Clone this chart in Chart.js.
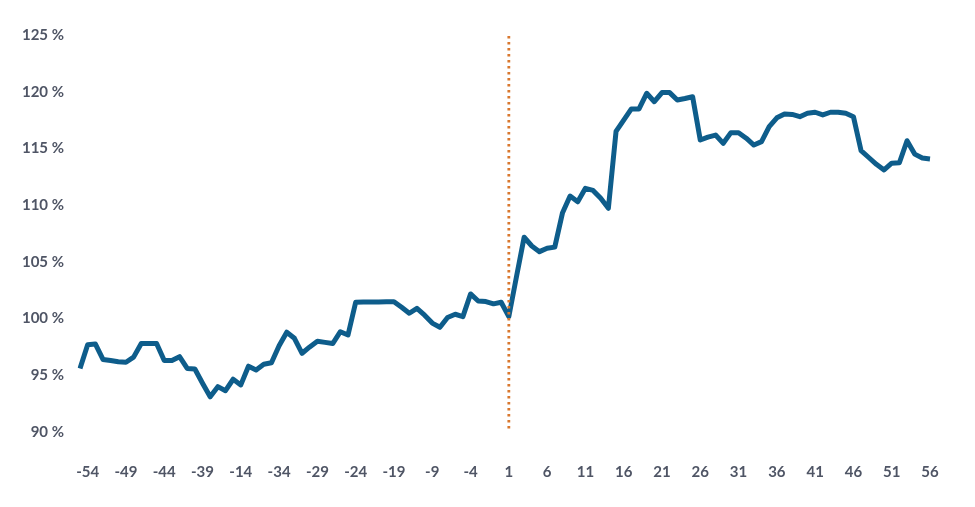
<!DOCTYPE html>
<html>
<head>
<meta charset="utf-8">
<script src="https://cdn.jsdelivr.net/npm/chart.js@4/dist/chart.umd.min.js"></script>
<style>
  html, body { margin: 0; padding: 0; background: #ffffff; }
  #wrap { width: 975px; height: 507px; }
</style>
</head>
<body>
<div id="wrap"><canvas id="c" width="975" height="507"></canvas></div>
<script>
// Category labels (days relative to event) as they appear on the axis
const dayLabels = [
  -55,
  -54, -53, -52, -51, -50, -49, -48, -47, -46, -45, -44, -43, -42, -41, -40,
  -39, -38, -37, -36, -35,
  -14, -13, -12, -11, -10,
  -34, -33, -32, -31, -30, -29, -28, -27, -26, -25, -24, -23, -22, -21, -20, -19, -18, -17, -16, -15,
  -9, -8, -7, -6, -5, -4, -3, -2, -1, 0,
  1, 2, 3, 4, 5, 6, 7, 8, 9, 10, 11, 12, 13, 14, 15, 16, 17, 18, 19, 20,
  21, 22, 23, 24, 25, 26, 27, 28, 29, 30, 31, 32, 33, 34, 35, 36, 37, 38, 39, 40,
  41, 42, 43, 44, 45, 46, 47, 48, 49, 50, 51, 52, 53, 54, 55, 56
];

// Relative value (%)
const relValues = [
  95.6, 97.7, 97.76, 96.4, 96.3, 96.2, 96.15, 96.6, 97.8, 97.8,
  97.8, 96.3, 96.3, 96.64, 95.6, 95.55, 94.3, 93.1, 94.0, 93.64,
  94.65, 94.15, 95.8, 95.47, 95.97, 96.1, 97.6, 98.8, 98.26, 96.94,
  97.5, 98.0, 97.9, 97.8, 98.84, 98.55, 101.44, 101.45, 101.46, 101.47,
  101.48, 101.49, 101.0, 100.47, 100.9, 100.3, 99.6, 99.23, 100.1, 100.38,
  100.17, 102.17, 101.55, 101.5, 101.3, 101.44, 100.17, 103.7, 107.17, 106.4,
  105.9, 106.2, 106.3, 109.3, 110.8, 110.3, 111.48, 111.3, 110.6, 109.72,
  116.5, 117.5, 118.48, 118.48, 119.86, 119.12, 119.92, 119.92, 119.27, 119.4,
  119.56, 115.74, 116.0, 116.18, 115.45, 116.39, 116.39, 115.9, 115.3, 115.6,
  116.92, 117.7, 118.04, 118.0, 117.8, 118.1, 118.19, 117.95, 118.19, 118.19,
  118.1, 117.8, 114.8, 114.2, 113.6, 113.1, 113.7, 113.74, 115.68, 114.5,
  114.15, 114.07
];

// Y axis range / ticks
const yMin = 90;
const yMax = 125;
const yStep = 5;

// Event marker: category with label 1
const eventLabel = 1;

const TEXT_COLOR = '#4f5565';
const FONT = { family: 'Lato', weight: 'bold', size: 15 };

const eventLinePlugin = {
  id: 'eventLine',
  afterDatasetsDraw(chart) {
    const xs = chart.scales.x, ys = chart.scales.y;
    const idx = dayLabels.indexOf(eventLabel);
    const x = xs.getPixelForValue(idx);
    const ctx = chart.ctx;
    ctx.save();
    ctx.strokeStyle = '#d9782f';
    ctx.lineWidth = 2.8;
    ctx.setLineDash([2.6, 3.4]);
    ctx.beginPath();
    ctx.moveTo(x, ys.getPixelForValue(yMax) + 1);
    ctx.lineTo(x, ys.getPixelForValue(yMin) - 2);
    ctx.stroke();
    ctx.restore();
  }
};

new Chart(document.getElementById('c'), {
  type: 'line',
  data: {
    labels: dayLabels.map(String),
    datasets: [{
      data: relValues,
      borderColor: '#0e5d8b',
      borderWidth: 5,
      pointRadius: 0,
      tension: 0,
      fill: false,
      borderJoinStyle: 'round',
      borderCapStyle: 'butt'
    }]
  },
  options: {
    responsive: false,
    animation: false,
    devicePixelRatio: 1,
    layout: { padding: { top: 35, right: 45, left: 0, bottom: 0 } },
    plugins: { legend: { display: false }, tooltip: { enabled: false } },
    scales: {
      x: {
        type: 'category',
        offset: false,
        grid: { display: false, drawTicks: false },
        border: { display: false },
        afterFit(scale) { scale.height = 75; },
        ticks: {
          autoSkip: false,
          maxRotation: 0,
          minRotation: 0,
          padding: 31,
          color: TEXT_COLOR,
          font: FONT,
          callback(value, index) {
            return (index - 1) % 5 === 0 ? String(dayLabels[index]) : '';
          }
        }
      },
      y: {
        min: yMin,
        max: yMax,
        grid: { display: false, drawTicks: false },
        border: { display: false },
        afterFit(scale) { scale.width = 80; },
        ticks: {
          stepSize: yStep,
          padding: 16,
          color: TEXT_COLOR,
          font: FONT,
          callback(v) { return v + ' %'; }
        }
      }
    }
  },
  plugins: [eventLinePlugin]
});
</script>
</body>
</html>
